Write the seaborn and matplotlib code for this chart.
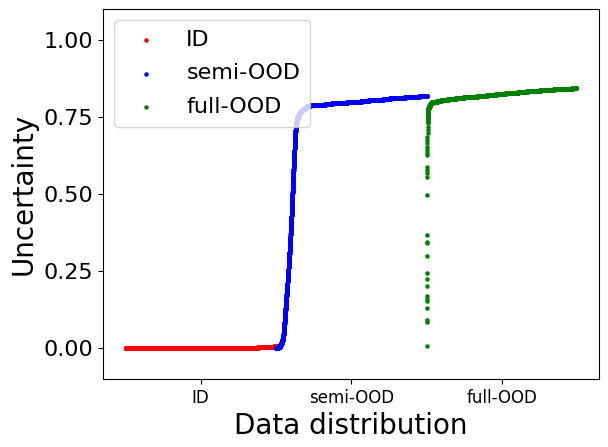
import numpy as np
import pandas as pd
import matplotlib
matplotlib.use("Agg")
import matplotlib.pyplot as plt
import seaborn as sns

# Sorted uncertainty values per distribution, stored as (value, how many samples) tables
groups = ["ID", "semi-OOD", "full-OOD"]
colors = ["red", "blue", "green"]

id_vals = [0.000, 0.001, 0.002, 0.003, 0.004, 0.005, 0.006]
id_counts = [2600, 1200, 600, 300, 180, 80, 40]

semi_vals = [0.000, 0.001, 0.002, 0.003, 0.004, 0.005, 0.006, 0.008, 0.010,
             0.012, 0.014, 0.017, 0.020, 0.023, 0.027, 0.031, 0.035,
             0.040, 0.046, 0.052, 0.059, 0.066, 0.074, 0.082,
             0.091, 0.100, 0.109, 0.118, 0.127, 0.136, 0.145, 0.154, 0.163, 0.172, 0.181, 0.190, 0.199,
             0.208, 0.217, 0.226, 0.235, 0.244, 0.253, 0.262, 0.271, 0.280, 0.289, 0.298, 0.308,
             0.317, 0.326, 0.335, 0.344, 0.353, 0.362, 0.371, 0.380, 0.389, 0.398, 0.407, 0.415,
             0.424, 0.433, 0.442, 0.451, 0.460, 0.469, 0.478, 0.487, 0.496, 0.505, 0.514,
             0.523, 0.532, 0.541, 0.550, 0.559, 0.568, 0.577, 0.586, 0.595, 0.605,
             0.614, 0.623, 0.632, 0.641, 0.650, 0.659, 0.668, 0.677, 0.686, 0.695, 0.704, 0.713,
             0.717, 0.721, 0.725, 0.729, 0.733, 0.737, 0.741, 0.745,
             0.748, 0.751, 0.754, 0.757, 0.760, 0.763, 0.765, 0.767,
             0.769, 0.771, 0.773, 0.775, 0.777, 0.778,
             0.780, 0.782, 0.784, 0.785, 0.786, 0.787,
             0.788, 0.790, 0.792, 0.794, 0.796, 0.798, 0.800, 0.802,
             0.804, 0.806, 0.808, 0.810, 0.812, 0.814, 0.816, 0.818]
semi_counts = [40, 26, 20, 18, 16, 14, 12, 10, 9,
               14, 13, 12, 11, 10, 10, 10, 9,
               7, 6, 6, 6, 6, 6, 6,
               7, 7, 7, 7, 7, 7, 7, 7, 7, 7, 7, 7, 7,
               7, 7, 7, 7, 6, 6, 6, 6, 6, 6, 6, 6,
               5, 5, 5, 5, 5, 5, 5, 5, 5, 5, 5, 5,
               4, 4, 4, 4, 4, 4, 4, 4, 4, 4, 4,
               4, 4, 4, 4, 4, 4, 4, 4, 4, 4,
               5, 5, 5, 5, 5, 5, 5, 5, 5, 5, 5, 5,
               7, 7, 7, 7, 7, 7, 7, 7,
               14, 14, 14, 14, 14, 14, 14, 14,
               27, 27, 27, 27, 27, 27,
               27, 27, 27, 27, 27, 27,
               242, 242, 242, 242, 242, 242, 242, 242,
               242, 242, 242, 242, 242, 242, 242, 242]

full_vals = [0.006, 0.085, 0.091, 0.129, 0.154, 0.161, 0.169, 0.201, 0.223, 0.244,
             0.299, 0.341, 0.345, 0.367, 0.497, 0.555, 0.568, 0.578, 0.588, 0.627,
             0.633, 0.643, 0.653, 0.666, 0.675, 0.685, 0.698, 0.708, 0.718, 0.730,
             0.735, 0.740, 0.745, 0.750, 0.755, 0.760, 0.765, 0.770,
             0.775, 0.778, 0.781, 0.784, 0.787, 0.790, 0.793, 0.795,
             0.796, 0.797, 0.798, 0.799, 0.800, 0.801, 0.802, 0.803,
             0.804, 0.805, 0.806, 0.807, 0.808, 0.809, 0.810, 0.811,
             0.812, 0.813, 0.814, 0.815, 0.816, 0.817, 0.818, 0.819, 0.820, 0.821,
             0.822, 0.823, 0.824, 0.825, 0.826, 0.827, 0.828, 0.829, 0.830, 0.831, 0.832,
             0.833, 0.834, 0.835, 0.836, 0.837, 0.838, 0.839, 0.840, 0.841, 0.842, 0.843]
full_counts = [1, 1, 1, 1, 1, 1, 1, 1, 1, 1,
               1, 1, 1, 1, 1, 1, 1, 1, 1, 1,
               1, 1, 1, 1, 1, 1, 1, 1, 1, 1,
               2, 2, 2, 2, 2, 2, 2, 2,
               12, 12, 12, 12, 12, 12, 12, 12,
               41, 41, 41, 41, 41, 41, 41, 41,
               82, 82, 82, 82, 82, 82, 82, 82,
               109, 109, 109, 109, 109, 109, 109, 109, 109, 109,
               102, 102, 102, 102, 102, 102, 102, 102, 102, 102, 102,
               150, 150, 150, 150, 150, 150, 150, 150, 150, 150, 150]

xtick_labels = ["ID", "semi-OOD", "full-OOD"]
yticks = [0.0, 0.25, 0.5, 0.75, 1.0]

tables = [(id_vals, id_counts), (semi_vals, semi_counts), (full_vals, full_counts)]

frames = []
centers = []
offset = 0
for g, (vals, cnts) in zip(groups, tables):
    u = np.repeat(np.asarray(vals, dtype=float), np.asarray(cnts, dtype=int))
    idx = offset + np.arange(len(u))
    frames.append(pd.DataFrame({"sample": idx, "uncertainty": u, "group": g}))
    centers.append(offset + len(u) / 2)
    offset += len(u)
df = pd.concat(frames, ignore_index=True)

fig = plt.figure(figsize=(6.08, 4.47), dpi=100)
ax = fig.add_axes([103 / 608, 1 - 379 / 447, (599 - 103) / 608, (379 - 9) / 447])

for g, c in zip(groups, colors):
    sub = df[df["group"] == g]
    sns.scatterplot(x=sub["sample"], y=sub["uncertainty"], color=c, s=5,
                    linewidth=1, edgecolor="face", label=g, ax=ax, legend=False)

ax.set_ylim(-0.1, 1.1)
ax.set_yticks(yticks)
ax.set_yticklabels([f"{t:.2f}" for t in yticks], fontsize=16)
ax.set_xticks(centers)
ax.set_xticklabels(xtick_labels, fontsize=12)
ax.set_xlabel("Data distribution", fontsize=20)
ax.set_ylabel("Uncertainty", fontsize=20)
ax.legend(loc="upper left", fontsize=16, labelspacing=0.6, borderpad=0.45)

fig.savefig("out.png", dpi=100)
